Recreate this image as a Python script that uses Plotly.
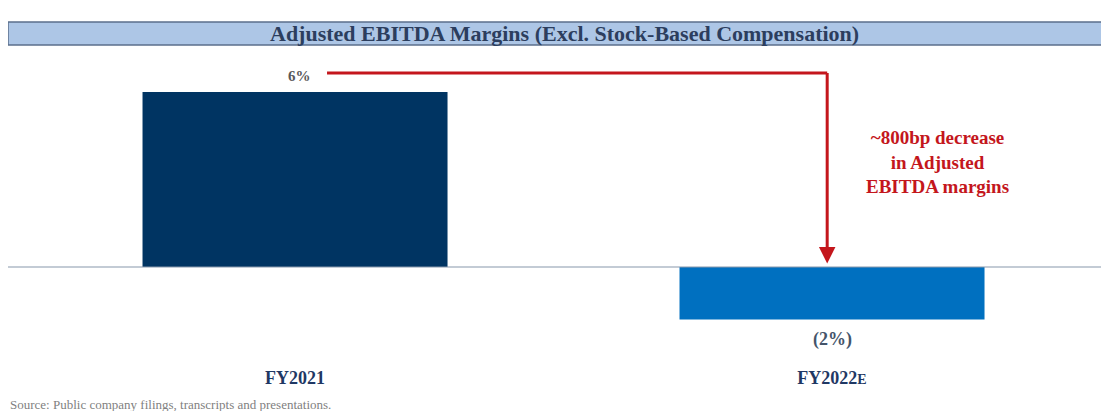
import plotly.graph_objects as go

categories = ["FY2021", "FY2022E"]
margins = [6.0, -1.8]
value_labels = ["6%", "(2%)"]
bar_colors = ["#003462", "#0070c0"]
title_text = "Adjusted EBITDA Margins (Excl. Stock-Based Compensation)"
callout_text = "~800bp decrease<br>in Adjusted<br>EBITDA margins"
source_text = "Source: Public company filings, transcripts and presentations."

OFF = 8  # page body margin
W, H = 1109 - OFF, 411 - OFF
MB = 46
PH = H - MB
SERIF = "Liberation Serif"

def py(p):
    return (PH - (p - OFF)) / PH

xpos = [0, 1]
fig = go.Figure()
fig.add_trace(go.Bar(
    x=xpos, y=margins, width=0.568,
    marker=dict(color=bar_colors, line=dict(width=0)),
    hoverinfo="skip",
))

fig.update_layout(
    width=W, height=H,
    margin=dict(l=0, r=0, t=0, b=MB),
    paper_bgcolor="white", plot_bgcolor="white",
    showlegend=False,
    xaxis=dict(range=[-0.5345, 1.5158], tickvals=xpos,
               ticktext=["<b>FY2021</b>", "<b>FY2022<span style='font-size:14px'>E</span></b>"],
               showgrid=False, zeroline=False, showline=False, ticks="",
               tickfont=dict(family=SERIF, size=18, color="#1f3864"),
               fixedrange=True),
    yaxis=dict(range=[-3.36, 8.879], visible=False, showgrid=False,
               zeroline=False, fixedrange=True),
)

# baseline
fig.add_shape(type="line", xref="paper", yref="y", x0=0, x1=1, y0=0, y1=0,
              line=dict(color="#8797ab", width=1.2))

# title banner
fig.add_shape(type="rect", xref="paper", yref="paper",
              x0=0, x1=1.01, y0=py(45), y1=py(22),
              fillcolor="#adc6e6", line=dict(color="#5b6f8c", width=1.5), layer="above")
fig.add_annotation(xref="paper", yref="paper", x=(564 - OFF) / W, y=py(33.5),
                   xanchor="center", yanchor="middle",
                   text="<b>" + title_text + "</b>", showarrow=False,
                   font=dict(family=SERIF, size=22, color="#2c3e5e"))

# value labels
fig.add_annotation(x=0.009, y=6.55, text="<b>" + value_labels[0] + "</b>", showarrow=False,
                   xanchor="center", yanchor="middle",
                   font=dict(family=SERIF, size=15, color="#595959"))
fig.add_annotation(x=1.0, y=-2.47, text="<b>" + value_labels[1] + "</b>", showarrow=False,
                   xanchor="center", yanchor="middle",
                   font=dict(family=SERIF, size=18, color="#44546a"))

# red connector
red = "#c4161c"
fig.add_shape(type="line", xref="x", yref="y", x0=0.0596, x1=0.991, y0=6.65, y1=6.65,
              line=dict(color=red, width=3))
fig.add_annotation(x=0.991, y=0.12, ax=0.991, ay=6.7, xref="x", yref="y",
                   axref="x", ayref="y", text="", showarrow=True,
                   arrowhead=2, arrowsize=1.1, arrowwidth=3, arrowcolor=red)
fig.add_annotation(x=1.197, y=3.6, text="<b>" + callout_text + "</b>", showarrow=False,
                   xanchor="center", yanchor="middle",
                   font=dict(family=SERIF, size=19, color=red), align="center")

# source
fig.add_annotation(xref="paper", yref="paper", x=0, y=py(404), xanchor="left",
                   yanchor="middle", text=source_text, showarrow=False,
                   font=dict(family=SERIF, size=13, color="#7f7f7f"))

fig.write_html("out.html")
